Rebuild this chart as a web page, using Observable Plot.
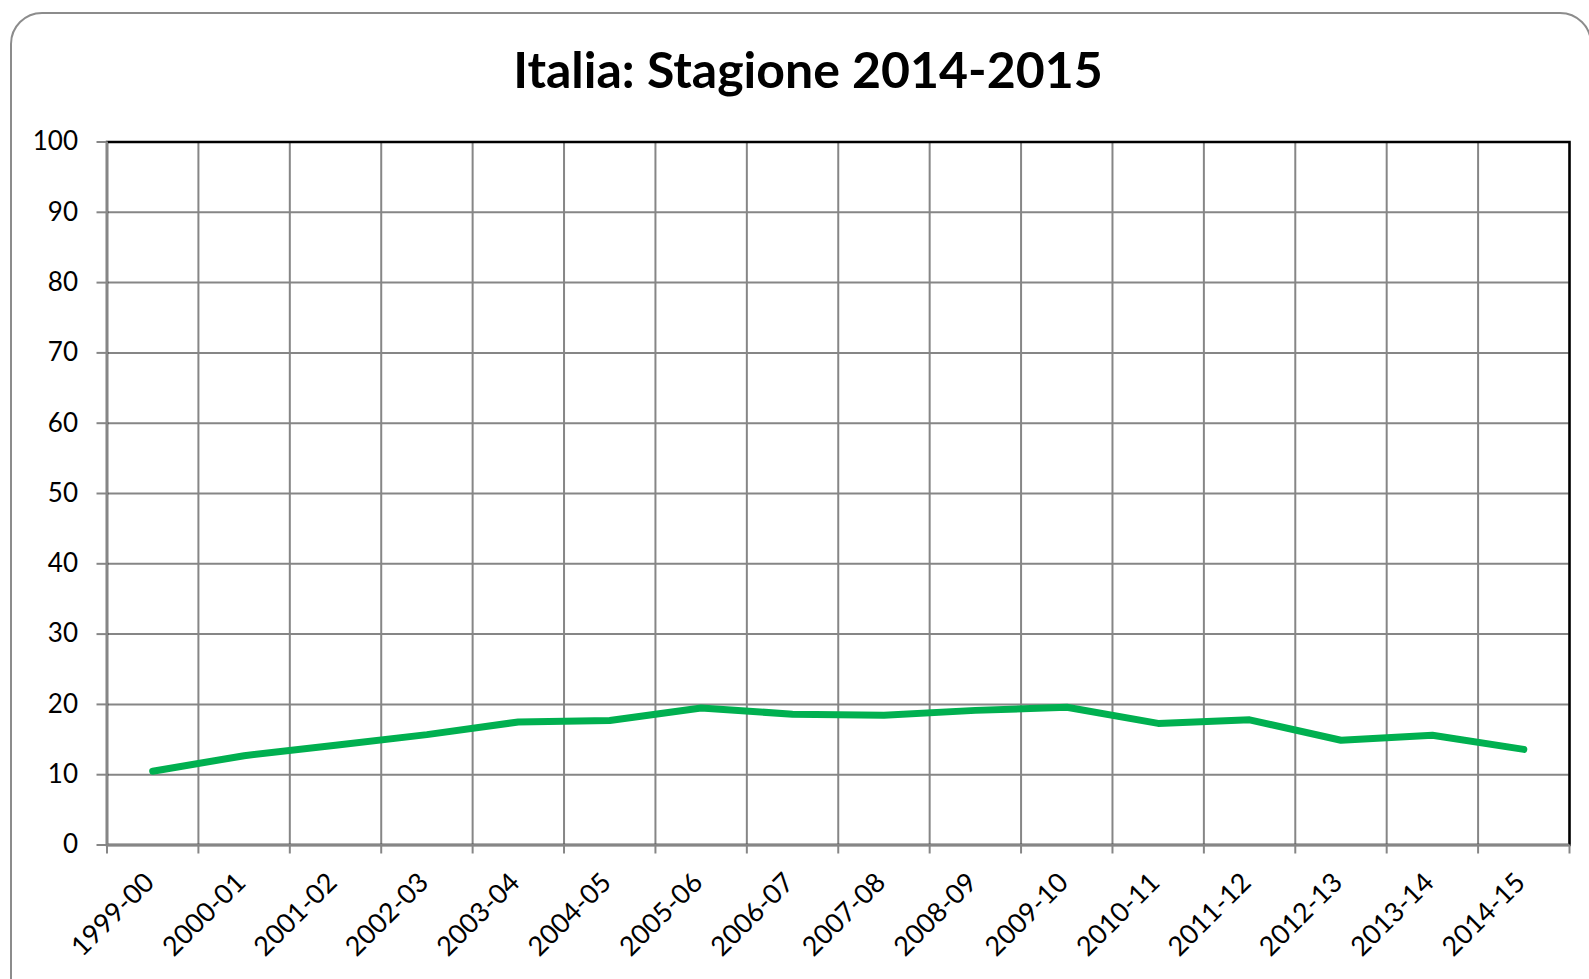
<!DOCTYPE html>
<html>
<head>
<meta charset="utf-8">
<script src="https://cdn.jsdelivr.net/npm/d3@7"></script>
<script src="https://cdn.jsdelivr.net/npm/@observablehq/plot@0.6"></script>
<style>
  html, body { margin: 0; padding: 0; background: #fff; overflow: hidden; }
  #page { position: relative; width: 1589px; height: 979px; }
  #box { position: absolute; left: 10px; top: 12px; width: 1582px; height: 1000px;
         border: 2px solid #8c8c8c; border-radius: 32px; box-sizing: border-box; }
  #title { position: absolute; left: 0; width: 1616px; top: 39px; text-align: center;
           font-family: Lato, "Open Sans", sans-serif; font-weight: bold; font-size: 50px;
           line-height: 60px; color: #000; }
  #chart { position: absolute; left: 0; top: 0; }
</style>
</head>
<body>
<div id="page">
  <div id="box"></div>
  <div id="title">Italia: Stagione 2014-2015</div>
  <div id="chart"></div>
</div>
<script>
const seasons = ["1999-00","2000-01","2001-02","2002-03","2003-04","2004-05","2005-06","2006-07",
                 "2007-08","2008-09","2009-10","2010-11","2011-12","2012-13","2013-14","2014-15"];
const values = [10.5, 12.7, 14.2, 15.7, 17.5, 17.7, 19.5, 18.6, 18.45, 19.15, 19.6, 17.3, 17.8, 14.9, 15.6, 13.6];
const yTicks = [0, 10, 20, 30, 40, 50, 60, 70, 80, 90, 100];

const data = seasons.map((s, i) => ({season: s, i: i + 0.5, value: values[i]}));
const bounds = d3.range(seasons.length + 1);
const centers = seasons.map((s, i) => i + 0.5);
const gridColor = "#868686";

const chart = Plot.plot({
  width: 1589,
  height: 979,
  marginLeft: 106.5,
  marginRight: 20,
  marginTop: 141.5,
  marginBottom: 134.5,
  style: {fontFamily: "Lato, 'Open Sans', sans-serif", fontSize: "26px", color: "#000", background: "transparent"},
  x: {type: "linear", domain: [0, seasons.length]},
  y: {domain: [0, 100]},
  marks: [
    Plot.ruleY(yTicks.filter(d => d > 0), {stroke: gridColor, strokeWidth: 2}),
    Plot.ruleX(bounds.filter(d => d > 0), {stroke: gridColor, strokeWidth: 2}),
    Plot.frame({stroke: "#000", strokeWidth: 2.5}),
    Plot.ruleX([0], {stroke: gridColor, strokeWidth: 2}),
    Plot.ruleY([0], {stroke: gridColor, strokeWidth: 2.5}),
    Plot.axisY(yTicks, {tickSize: 10, tickPadding: 19, stroke: gridColor, strokeWidth: 2, fill: "#000", fontSize: 26, label: null}),
    Plot.axisX(bounds, {tickSize: 9, stroke: gridColor, strokeWidth: 2, text: null, label: null}),
    Plot.axisX(centers, {tickSize: 0, tickPadding: 33, tickRotate: -45, fontSize: 27, fill: "#000", dx: -3,
                         tickFormat: d => seasons[Math.round(d - 0.5)], label: null}),
    Plot.line(data, {x: "i", y: "value", stroke: "#00B050", strokeWidth: 7, strokeLinecap: "round", strokeLinejoin: "round"})
  ]
});
document.getElementById("chart").append(chart);
</script>
</body>
</html>
